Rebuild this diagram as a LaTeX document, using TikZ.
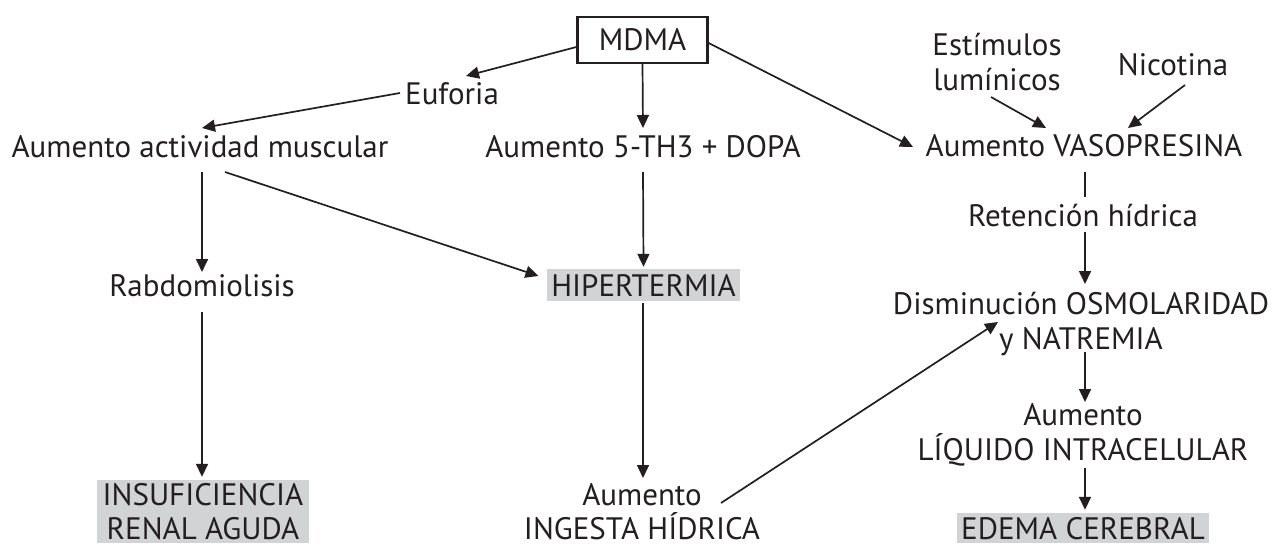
\documentclass[tikz,border=0pt]{standalone}
\usepackage{fontspec}
\setmainfont{PT Sans}
\usetikzlibrary{arrows.meta}
\definecolor{ink}{HTML}{231F20}
\definecolor{hl}{HTML}{D2D3D5}
\newcommand\twol[3][35pt]{\vtop{\baselineskip=#1\lineskiplimit=-100pt\halign{\hfil##\hfil\cr #2\cr #3\cr}}}
\begin{document}
\begin{tikzpicture}[x=1pt,y=-1pt,
  lbl/.style={inner sep=0pt, anchor=base, text=ink, font=\fontsize{31}{35}\selectfont},
  hbox/.style={lbl, fill=hl, inner xsep=4pt, inner ysep=3.5pt, text height=23.5pt},
  hone/.style={hbox, text depth=1.5pt},
  arr/.style={draw=ink, line width=1.7pt, -{Triangle[length=13pt,width=12pt]}},
  ln/.style={draw=ink, line width=1.7pt}]
\clip (0,0) rectangle (1277,548);
\fill[white] (0,0) rectangle (1277,548);
% nodes
\node[lbl, anchor=center, draw=ink, line width=2.2pt, minimum width=130pt, minimum height=46pt, text height=22pt, text depth=0pt] (mdma) at (642.5,40) {MDMA};
\node[lbl] (euf) at (452,105) {Euforia};
\node[lbl] (act) at (200,158) {Aumento actividad muscular};
\node[lbl] (dopa) at (643,158) {Aumento 5-TH3 + DOPA};
\node[lbl] (vaso) at (1084,157) {Aumento VASOPRESINA};
\node[lbl] (est) at (997,56) {\twol{Estímulos}{lumínicos}};
\node[lbl] (nic) at (1173,76) {Nicotina};
\node[lbl] (ret) at (1083,226) {Retención hídrica};
\node[lbl] (rab) at (202,296) {Rabdomiolisis};
\node[hone, minimum width=193pt] (hip) at (643.5,296) {HIPERTERMIA};
\node[lbl] (dis) at (1081,314) {\twol{Disminución OSMOLARIDAD}{y NATREMIA}};
\node[lbl] (liq) at (1083,425) {\twol{Aumento}{LÍQUIDO INTRACELULAR}};
\node[hbox, text height=21.5pt, minimum width=212pt] (ins) at (203,505) {\twol[34pt]{INSUFICIENCIA}{RENAL AGUDA}};
\node[lbl] (ing) at (642,505) {\twol[34pt]{Aumento}{INGESTA HÍDRICA}};
\node[hbox, text height=22.5pt, text depth=0pt, minimum width=252pt] (ede) at (1083,539) {EDEMA CEREBRAL};
% connectors
\draw[arr] ([shift={(0,7)}]mdma.west) -- ([shift={(14,-29)}]euf.base);
\draw[arr] ([shift={(-52,-12)}]euf.base) -- ([shift={(2,-30)}]act.base);
\draw[arr] (mdma.south) -- ([shift={(0,-30)}]dopa.base);
\draw[arr] ([shift={(0,3)}]mdma.east) -- ([shift={(-171,-10)}]vaso.base);
\draw[arr] ([shift={(-6,41)}]est.base) -- ([shift={(-38,-29)}]vaso.base);
\draw[arr] ([shift={(12,9)}]nic.base) -- ([shift={(44,-29)}]vaso.base);
\draw[ln] ([shift={(1,15)}]vaso.base) -- ([shift={(2,-29)}]ret.base);
\draw[arr] ([shift={(2,6)}]ret.base) -- ([shift={(4,-30)}]dis.base);
\draw[arr] ([shift={(2,14)}]act.base) -- ([shift={(0,-24)}]rab.base);
\draw[arr] ([shift={(25,14)}]act.base) -- ([shift={(-105,-20)}]hip.base);
\draw[arr] ([shift={(0,14)}]dopa.base) -- ([shift={(0,-2)}]hip.north);
\draw[arr] ([shift={(0,16)}]rab.base) -- ([shift={(-1,-3)}]ins.north);
\draw[arr] ([shift={(-0.5,2)}]hip.south) -- ([shift={(1,-27)}]ing.base);
\draw[arr] ([shift={(79,-2)}]ing.base) -- ([shift={(-83,8)}]dis.base);
\draw[arr] ([shift={(4,38)}]dis.base) -- ([shift={(2,-23)}]liq.base);
\draw[arr] ([shift={(2,43)}]liq.base) -- ([shift={(2,-3)}]ede.north);
\end{tikzpicture}
\end{document}
